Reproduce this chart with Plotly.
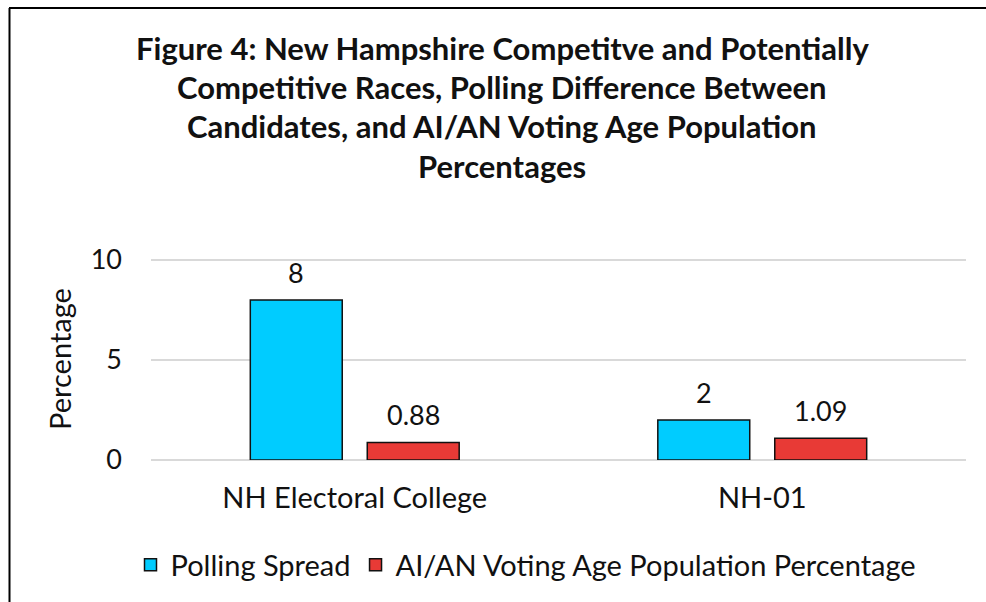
import plotly.graph_objects as go

categories = ["NH Electoral College", "NH-01"]
polling_spread = [8, 2]
aian_vap_pct = [0.88, 1.09]
series_names = ["Polling Spread", "AI/AN Voting Age Population Percentage"]
y_ticks = [0, 5, 10]

title_lines = [
    "Figure 4: New Hampshire Competitve and Potentially",
    "Competitive Races, Polling Difference Between",
    "Candidates, and AI/AN Voting Age Population",
    "Percentages",
]

FONT = "Lato"
INK = "#111111"
BLUE = "#00CCFF"
RED = "#E83A36"
BARGAP = 0.426
GROUPGAP = 0.214

# plot-area geometry in pixels
W, H = 986, 602
L, R, T, B = 151, 20, 258, 142
PW, PH = W - L - R, H - T - B
Y_MAX = 10 + (260 - T) / 20  # 20 px per unit, small headroom so the top gridline shows


def px_x(x):
    return (x - L) / PW


def px_y(y):
    return (H - B - y) / PH


fig = go.Figure()
fig.add_trace(go.Bar(x=categories, y=polling_spread, name=series_names[0],
                     marker=dict(color=BLUE, line=dict(color=INK, width=1.5))))
fig.add_trace(go.Bar(x=categories, y=aian_vap_pct, name=series_names[1],
                     marker=dict(color=RED, line=dict(color=INK, width=1.5))))

# value labels above each bar
slot = (1 - BARGAP) / 2
annotations = []
for i in range(len(categories)):
    for k, vals in enumerate([polling_spread, aian_vap_pct]):
        annotations.append(dict(
            x=i + (k - 0.5) * slot, y=vals[i], xref="x", yref="y",
            text=f"{vals[i]:g}", showarrow=False, yshift=28,
            font=dict(family=FONT, size=27, color=INK),
        ))

# title, one line per annotation
title_y_px = [48, 87, 126, 166]
for line, ypx in zip(title_lines, title_y_px):
    annotations.append(dict(
        x=px_x(502), xref="paper", y=px_y(ypx), yref="paper",
        text=f"<b>{line}</b>", showarrow=False,
        xanchor="center", yanchor="middle",
        font=dict(family=FONT, size=31, color=INK),
    ))

fig.update_layout(
    width=W, height=H,
    margin=dict(l=L, r=R, t=T, b=B),
    paper_bgcolor="white", plot_bgcolor="white",
    barmode="group", bargap=BARGAP, bargroupgap=GROUPGAP,
    font=dict(family=FONT, color=INK),
    annotations=annotations,
    showlegend=True,
    legend=dict(orientation="h", x=px_x(526), xanchor="center", y=px_y(565), yanchor="middle",
                font=dict(family=FONT, size=29, color=INK),
                itemwidth=30, traceorder="normal"),
    shapes=[
        dict(type="line", xref="paper", yref="paper",
             x0=px_x(9), x1=px_x(W), y0=px_y(8), y1=px_y(8),
             line=dict(color="black", width=2)),
        dict(type="line", xref="paper", yref="paper",
             x0=px_x(9.5), x1=px_x(9.5), y0=px_y(8), y1=px_y(H),
             line=dict(color="black", width=2)),
    ],
)
fig.update_xaxes(showline=False, ticks="", tickfont=dict(family=FONT, size=29, color=INK),
                 ticklabelstandoff=18)
fig.update_yaxes(range=[0, Y_MAX], tickvals=y_ticks, showgrid=True, gridcolor="#D9D9D9",
                 gridwidth=2, zeroline=True, zerolinecolor="#D9D9D9", zerolinewidth=2,
                 tickfont=dict(family=FONT, size=27, color=INK),
                 ticklabelstandoff=28,
                 title=dict(text="Percentage", font=dict(family=FONT, size=29, color=INK),
                            standoff=10))

fig.write_html("out.html")
